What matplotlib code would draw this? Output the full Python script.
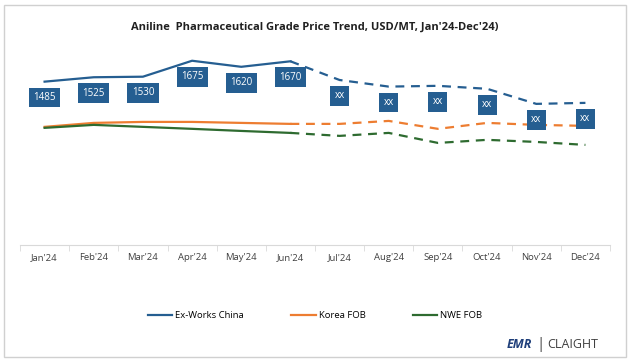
import matplotlib.pyplot as plt
import numpy as np
from matplotlib.patches import Rectangle

plt.rcParams['font.family'] = ['Open Sans', 'DejaVu Sans']

months = ["Jan'24", "Feb'24", "Mar'24", "Apr'24", "May'24", "Jun'24",
          "Jul'24", "Aug'24", "Sep'24", "Oct'24", "Nov'24", "Dec'24"]
china = [1485, 1525, 1530, 1675, 1620, 1670, 1500, 1440, 1447, 1420, 1283, 1292]
korea = [1074, 1110, 1119, 1119, 1110, 1101, 1101, 1128, 1056, 1110, 1092, 1083]
nwe = [1065, 1092, 1074, 1056, 1037, 1019, 992, 1019, 928, 956, 937, 910]
china_labels = ['1485', '1525', '1530', '1675', '1620', '1670',
                'xx', 'xx', 'xx', 'xx', 'xx', 'xx']

c_china = '#255E91'
c_korea = '#ED7D31'
c_nwe = '#2E6B30'

fig = plt.figure(figsize=(6.3, 3.61), dpi=100)
fig.patches.append(Rectangle((0.006, 0.012), 0.988, 0.975, transform=fig.transFigure,
                             fill=False, edgecolor='#D0D0D0', linewidth=1))
ax = fig.add_axes([20/630, 1-245/361, 590/630, 220/361])

x = np.arange(len(months))
solid = slice(0, 6)
dashed = slice(5, 12)
for vals, col, name in [(china, c_china, 'Ex-Works China'),
                        (korea, c_korea, 'Korea FOB'),
                        (nwe, c_nwe, 'NWE FOB')]:
    v = np.array(vals)
    ax.plot(x[solid], v[solid], color=col, lw=1.6, label=name)
    ax.plot(x[dashed], v[dashed], color=col, lw=1.6, dashes=(4, 3))

for i, (val, lab) in enumerate(zip(china, china_labels)):
    ax.annotate(lab, (x[i], val), xytext=(0, -11.5), textcoords='offset points',
                ha='center', va='center', color='white', fontsize=7,
                bbox=dict(boxstyle='square,pad=0.45', fc=c_china, ec='none'))

ax.set_xlim(-0.5, 11.5)
ax.set_ylim(0, 2000)
ax.set_yticks([])
ax.set_xticks(x)
ax.set_xticklabels(months, fontsize=6.8, color='#404040')
ax.set_xticks(np.arange(-0.5, 12, 1), minor=True)
ax.tick_params(axis='x', which='major', length=0, pad=6)
ax.tick_params(axis='x', which='minor', length=4, color='#D9D9D9')
for s in ['top', 'right', 'left']:
    ax.spines[s].set_visible(False)
ax.spines['bottom'].set_color('#D9D9D9')

fig.text(0.5, 1-27/361, "Aniline  Pharmaceutical Grade Price Trend, USD/MT, Jan'24-Dec'24)",
         ha='center', va='center', fontsize=8, fontweight='bold', color='#202020')

handles = ax.get_legend_handles_labels()
fig.legend(*handles, loc='center', bbox_to_anchor=(0.5, 1-316/361), ncol=3,
           frameon=False, fontsize=6.8, handlelength=2.6, columnspacing=5,
           handletextpad=0.3)

fig.text(0.845, 1-345/361, 'EMR', ha='right', va='center', fontsize=9,
         fontweight='bold', color='#1F3F7A', style='italic')
fig.text(0.858, 1-345/361, '|', ha='center', va='center', fontsize=11, color='#404040')
fig.text(0.868, 1-345/361, 'CLAIGHT', ha='left', va='center', fontsize=9,
         color='#404040')

fig.savefig('out.png', dpi=100)
